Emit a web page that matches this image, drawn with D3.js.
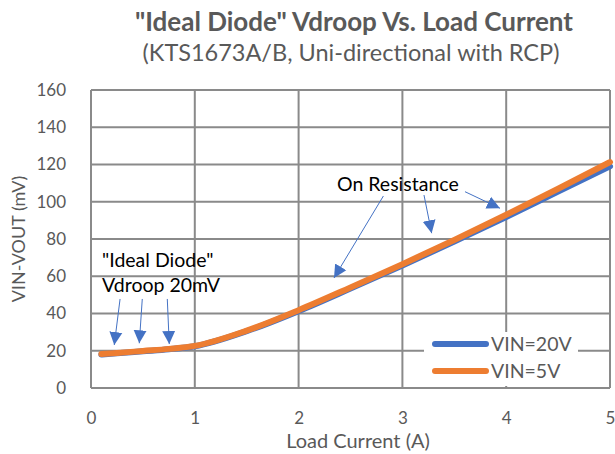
<!DOCTYPE html>
<html>
<head>
<meta charset="utf-8">
<script src="https://cdn.jsdelivr.net/npm/d3@7"></script>
<style>
  body { margin: 0; background: #fff; }
  svg { display: block; font-family: Lato, "Open Sans", sans-serif; }
</style>
</head>
<body>
<svg id="chart" width="615" height="454"></svg>
<script>
// Data
const loadCurrent = [0.1, 0.25, 0.5, 0.75, 1.0, 1.5, 2.0, 2.5, 3.0, 3.5, 4.0, 4.5, 5.0];
const vin20 = [18.0, 18.6, 19.7, 20.8, 22.4, 30.5, 41.3, 53.4, 65.8, 78.6, 91.8, 105.5, 119.0];
const vin5  = [18.2, 18.8, 19.9, 21.0, 22.6, 30.8, 41.8, 54.0, 66.5, 79.5, 93.0, 107.0, 121.3];
const xTicks = [0, 1, 2, 3, 4, 5];
const yTicks = [0, 20, 40, 60, 80, 100, 120, 140, 160];

const seriesNames = ["VIN=20V", "VIN=5V"];
const seriesColors = ["#4472C4", "#ED7D31"];

// annotation arrows, in data units: [x0, y0, x1, y1]
const diodeArrows = [
  [0.28, 47.8, 0.224, 23.1],
  [0.494, 47.8, 0.465, 24.0],
  [0.735, 47.8, 0.754, 23.6]
];
const resistArrows = [
  [2.817, 103.1, 2.341, 59.1],
  [3.208, 103.6, 3.282, 83.1],
  [3.603, 105.4, 3.940, 96.5]
];

const width = 615, height = 454;
const margin = { top: 90, right: 5, bottom: 66, left: 91 };
const svg = d3.select("#chart");

const x = d3.scaleLinear().domain([0, 5]).range([margin.left, width - margin.right]);
const y = d3.scaleLinear().domain([0, 160]).range([height - margin.bottom, margin.top]);

const grey = "#595959";
const gridCol = "#8a8a8a";

// Gridlines
svg.append("g")
  .selectAll("line.h")
  .data(yTicks)
  .join("line")
  .attr("x1", x(0)).attr("x2", x(5))
  .attr("y1", d => y(d)).attr("y2", d => y(d))
  .attr("stroke", gridCol).attr("stroke-width", 2);

svg.append("g")
  .selectAll("line.v")
  .data(xTicks)
  .join("line")
  .attr("x1", d => x(d)).attr("x2", d => x(d))
  .attr("y1", y(0)).attr("y2", y(160))
  .attr("stroke", gridCol).attr("stroke-width", 2);

// Axes (labels only)
const yAxis = svg.append("g")
  .attr("transform", `translate(${margin.left},0)`)
  .call(d3.axisLeft(y).tickValues(yTicks).tickSize(0).tickPadding(25));
const xAxis = svg.append("g")
  .attr("transform", `translate(0,${height - margin.bottom})`)
  .call(d3.axisBottom(x).tickValues(xTicks).tickFormat(d3.format("d")).tickSize(0).tickPadding(24));
[yAxis, xAxis].forEach(a => {
  a.select(".domain").remove();
  a.selectAll("text")
    .attr("fill", grey)
    .style("font-size", "17px")
    .style("font-family", "Lato, sans-serif");
});

// Legend background (hides grid)
svg.append("rect")
  .attr("x", 424).attr("y", 332)
  .attr("width", 154).attr("height", 54)
  .attr("fill", "#fff");

// Lines
const series = [vin20, vin5];
const line = d3.line()
  .x((d, i) => x(loadCurrent[i]))
  .y(d => y(d))
  .curve(d3.curveMonotoneX);

svg.append("g")
  .selectAll("path")
  .data(series)
  .join("path")
  .attr("d", line)
  .attr("fill", "none")
  .attr("stroke", (d, i) => seriesColors[i])
  .attr("stroke-width", 6)
  .attr("stroke-linecap", "round")
  .attr("stroke-linejoin", "round");

// Legend
const legend = svg.append("g").attr("transform", "translate(432,344)");
seriesNames.forEach((name, i) => {
  const g = legend.append("g").attr("transform", `translate(0,${i * 27})`);
  g.append("line")
    .attr("x1", 3).attr("x2", 54)
    .attr("stroke", seriesColors[i])
    .attr("stroke-width", 6)
    .attr("stroke-linecap", "round");
  g.append("text")
    .attr("x", 59).attr("y", 7)
    .attr("fill", grey)
    .style("font-size", "19.5px")
    .text(name);
});

// Arrow marker
svg.append("defs").append("marker")
  .attr("id", "arrow")
  .attr("viewBox", "0 0 10 10")
  .attr("refX", 10).attr("refY", 5)
  .attr("markerUnits", "userSpaceOnUse")
  .attr("markerWidth", 13).attr("markerHeight", 15)
  .attr("orient", "auto")
  .append("path")
  .attr("d", "M0,0 L10,5 L0,10 Z")
  .attr("fill", "#4472C4");

svg.append("g")
  .selectAll("line")
  .data(diodeArrows.concat(resistArrows))
  .join("line")
  .attr("x1", d => x(d[0])).attr("y1", d => y(d[1]))
  .attr("x2", d => x(d[2])).attr("y2", d => y(d[3]))
  .attr("stroke", "#4472C4")
  .attr("stroke-width", 1)
  .attr("marker-end", "url(#arrow)");

// Annotation text
const note = svg.append("g").attr("fill", "#000").style("font-size", "19.5px");
note.append("text").attr("x", 102).attr("y", 267).text("\"Ideal Diode\"");
note.append("text").attr("x", 102).attr("y", 292).text("Vdroop 20mV");
note.append("text").attr("x", 337).attr("y", 191).text("On Resistance");

// Titles
svg.append("text")
  .attr("x", 354).attr("y", 31)
  .attr("text-anchor", "middle")
  .attr("fill", grey)
  .style("font-size", "26px")
  .style("font-weight", "bold")
  .text("\"Ideal Diode\" Vdroop Vs. Load Current");

svg.append("text")
  .attr("x", 351).attr("y", 61)
  .attr("text-anchor", "middle")
  .attr("fill", grey)
  .style("font-size", "23.5px")
  .text("(KTS1673A/B, Uni-directional with RCP)");

svg.append("text")
  .attr("x", 358).attr("y", 448)
  .attr("text-anchor", "middle")
  .attr("fill", grey)
  .style("font-size", "20px")
  .text("Load Current (A)");

svg.append("text")
  .attr("transform", "rotate(-90)")
  .attr("x", -239).attr("y", 25)
  .attr("text-anchor", "middle")
  .attr("fill", grey)
  .style("font-size", "18px")
  .text("VIN-VOUT (mV)");
</script>
</body>
</html>
